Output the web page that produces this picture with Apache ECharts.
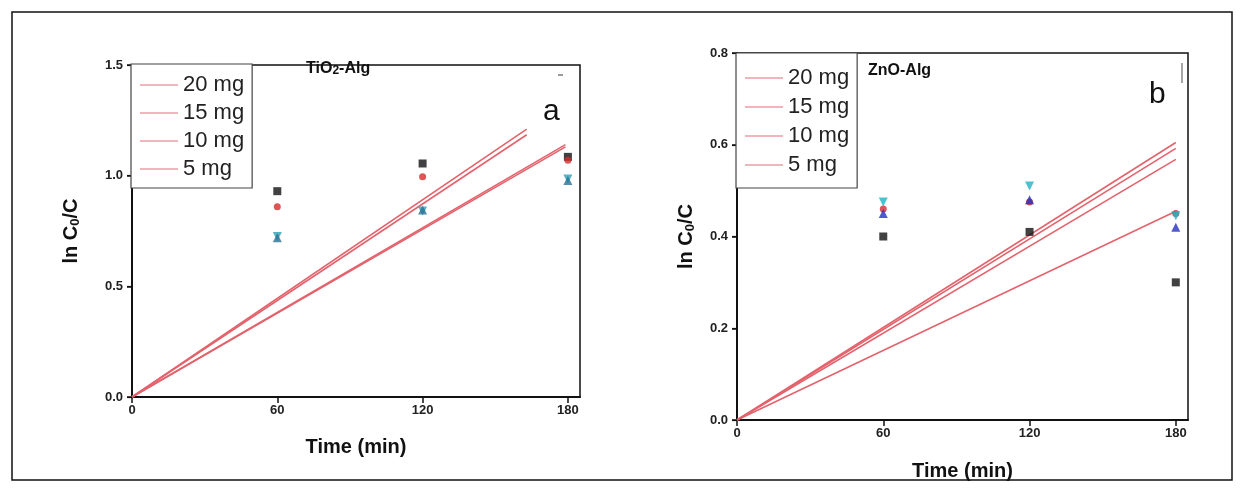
<!DOCTYPE html>
<html>
<head>
<meta charset="utf-8">
<script src="https://cdn.jsdelivr.net/npm/echarts@6/dist/echarts.min.js"></script>
<style>html,body{margin:0;padding:0;background:#fff;}#c{width:1244px;height:495px;}</style>
</head>
<body>
<div id="c"></div>
<script>
// ---- data ----
const doseNames = ['20 mg', '15 mg', '10 mg', '5 mg'];
const ptTimes = [60, 120, 180];
const xTicks = [0, 60, 120, 180];

// panel a (TiO2-Alg)
const aSquare = [0.93, 1.055, 1.085];
const aCircle = [0.86, 0.995, 1.07];
const aUp = [0.72, 0.845, 0.978];
const aDown = [0.725, 0.84, 0.985];
const aLineEndX = [163, 163, 179, 179];
const aLineEndY = [1.21, 1.185, 1.14, 1.13];

// panel b (ZnO-Alg)
const bSquare = [0.40, 0.41, 0.30];
const bCircle = [0.46, 0.475, 0.45];
const bUp = [0.45, 0.48, 0.42];
const bDown = [0.475, 0.51, 0.445];
const bLineEndX = [180, 180, 180, 180];
const bLineEndY = [0.605, 0.592, 0.568, 0.455];

// ---- chart ----
const FONT = '"Liberation Sans", Arial, sans-serif';
const chart = echarts.init(document.getElementById('c'));
const pts = (ys) => ptTimes.map((t, i) => [t, ys[i]]);

function xAx(g, gap) {
  return {
    gridIndex: g, type: 'value', min: 0, max: 185, interval: 60,
    axisLine: { show: true, onZero: false, lineStyle: { color: '#111', width: 2 } },
    axisTick: { show: true, inside: false, length: 6, customValues: xTicks, lineStyle: { color: '#111', width: 1.5 } },
    axisLabel: { customValues: xTicks, fontFamily: FONT, fontWeight: 'bold', fontSize: 13, color: '#222', margin: 7 },
    splitLine: { show: false },
    name: 'Time (min)', nameLocation: 'middle', nameGap: gap,
    nameTextStyle: { fontFamily: FONT, fontWeight: 'bold', fontSize: 20, color: '#111' }
  };
}
function yAx(g, max, interval, gap) {
  return {
    gridIndex: g, type: 'value', min: 0, max: max, interval: interval,
    axisLine: { show: true, onZero: false, lineStyle: { color: '#111', width: 2 } },
    axisTick: { show: true, inside: false, length: 5, lineStyle: { color: '#111', width: 1.5 } },
    axisLabel: { fontFamily: FONT, fontWeight: 'bold', fontSize: 13, color: '#222', margin: 9,
      formatter: v => v.toFixed(1) },
    splitLine: { show: false },
    name: 'ln C{s|0}/C', nameLocation: 'middle', nameGap: gap, nameRotate: 90,
    nameTextStyle: { fontFamily: FONT, fontWeight: 'bold', fontSize: 20, color: '#111', lineHeight: 22,
      rich: { s: { fontFamily: FONT, fontWeight: 'bold', fontSize: 13, lineHeight: 13, verticalAlign: 'bottom', color: '#111' } } }
  };
}
function yMirror(g, max, interval) {
  return {
    gridIndex: g, type: 'value', min: 0, max: max, interval: interval, position: 'right',
    axisLine: { show: false }, axisTick: { show: true, inside: true, length: 5, lineStyle: { color: '#111', width: 1.2 } },
    axisLabel: { show: false }, splitLine: { show: false }
  };
}
function legendFor(left, top, padding, gap) {
  return {
    data: doseNames, orient: 'vertical', left: left, top: top,
    icon: 'rect', itemWidth: 38, itemHeight: 1.6, itemGap: gap, itemTextGap: 8, padding: padding,
    backgroundColor: '#fff', borderColor: '#444', borderWidth: 1.2,
    itemStyle: { color: '#eb9ea6', borderWidth: 0 },
    textStyle: { fontFamily: FONT, fontSize: 22, lineHeight: 21, color: '#222' },
    selectedMode: false
  };
}
const lineColor = '#e3636d';
const series = [];
function addPanel(g, lx, ly, sq, ci, up, dn, upColor, dnColor) {
  doseNames.forEach((n, i) => {
    series.push({ name: n, type: 'line', xAxisIndex: g, yAxisIndex: g * 2, symbol: 'none',
      data: [[0, 0], [lx[i], ly[i]]], lineStyle: { color: lineColor, width: 1.6 }, itemStyle: { color: lineColor }, z: 3, silent: true });
  });
  series.push({ name: 'sq' + g, type: 'scatter', xAxisIndex: g, yAxisIndex: g * 2, symbol: 'rect', symbolSize: 8, data: pts(sq), itemStyle: { color: '#111' }, z: 4 });
  series.push({ name: 'ci' + g, type: 'scatter', xAxisIndex: g, yAxisIndex: g * 2, symbol: 'circle', symbolSize: 7, data: pts(ci), itemStyle: { color: '#d42a2a' }, z: 4 });
  series.push({ name: 'dn' + g, type: 'scatter', xAxisIndex: g, yAxisIndex: g * 2, symbol: 'triangle', symbolRotate: 180, symbolSize: 9, data: pts(dn), itemStyle: { color: dnColor }, z: 4 });
  series.push({ name: 'up' + g, type: 'scatter', xAxisIndex: g, yAxisIndex: g * 2, symbol: 'triangle', symbolSize: 9, data: pts(up), itemStyle: { color: upColor }, z: 4 });
}
addPanel(0, aLineEndX, aLineEndY, aSquare, aCircle, aUp, aDown, '#2a6f95', '#2aa0b4');
addPanel(1, bLineEndX, bLineEndY, bSquare, bCircle, bUp, bDown, '#2430c4', '#1fb3c6');

const option = {
  backgroundColor: '#fff',
  animation: false,
  textStyle: { fontFamily: FONT },
  grid: [
    { left: 132, top: 65, width: 448, height: 332, show: true, borderColor: '#111', borderWidth: 1.5, backgroundColor: '#fff' },
    { left: 737, top: 53, width: 451, height: 367, show: true, borderColor: '#111', borderWidth: 1.5, backgroundColor: '#fff' }
  ],
  xAxis: [xAx(0, 40), xAx(1, 41)],
  yAxis: [yAx(0, 1.5, 0.5, 50), yMirror(0, 1.5, 0.5), yAx(1, 0.8, 0.2, 40), yMirror(1, 0.8, 0.2)],
  legend: [legendFor(131, 64, [10, 8, 8, 9], 6), legendFor(736, 53, [14, 8, 12, 9], 7)],
  series: series,
  graphic: [
    { type: 'rect', shape: { x: 12, y: 12, width: 1220, height: 468 }, style: { fill: 'none', stroke: '#111', lineWidth: 1.5 }, z: 100 },
    { type: 'text', left: 306, top: 61, style: { text: 'TiO{s|2}-Alg', fontFamily: FONT, fontWeight: 'bold', fontSize: 16, fill: '#111',
        rich: { s: { fontFamily: FONT, fontWeight: 'bold', fontSize: 12, verticalAlign: 'bottom', fill: '#111' } } }, z: 100 },
    { type: 'text', left: 868, top: 63, style: { text: 'ZnO-Alg', fontFamily: FONT, fontWeight: 'bold', fontSize: 16, fill: '#111' }, z: 100 },
    { type: 'text', left: 543, top: 97, style: { text: 'a', fontFamily: FONT, fontSize: 30, fill: '#111' }, z: 100 },
    { type: 'text', left: 1149, top: 80, style: { text: 'b', fontFamily: FONT, fontSize: 30, fill: '#111' }, z: 100 },
    { type: 'line', shape: { x1: 558, y1: 75, x2: 563, y2: 75 }, style: { stroke: '#777', lineWidth: 1.5 }, z: 100 },
    { type: 'line', shape: { x1: 1182, y1: 63, x2: 1182, y2: 83 }, style: { stroke: '#888', lineWidth: 1.5 }, z: 100 }
  ]
};
chart.setOption(option);
</script>
</body>
</html>
